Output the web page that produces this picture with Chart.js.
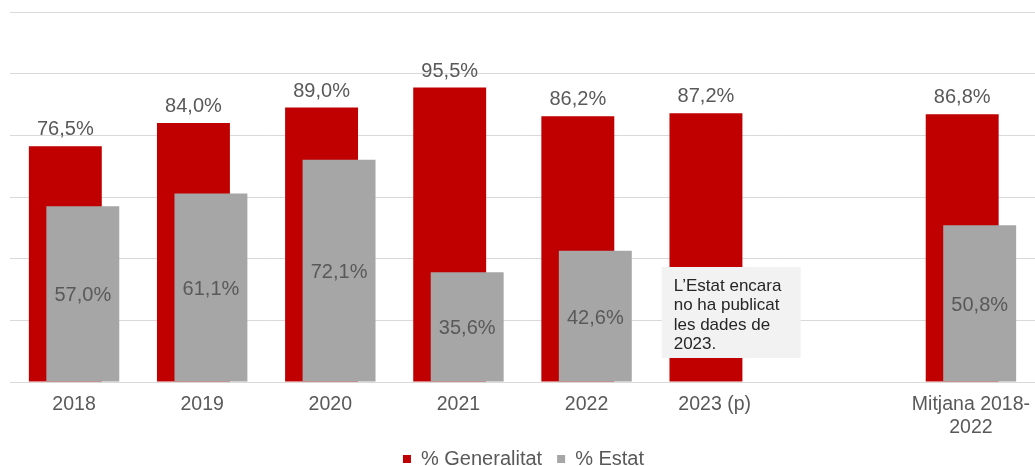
<!DOCTYPE html>
<html>
<head>
<meta charset="utf-8">
<script src="https://cdn.jsdelivr.net/npm/chart.js@4"></script>
<style>
  html, body { margin: 0; padding: 0; background: #ffffff; }
  #wrap { width: 1035px; height: 466px; position: relative; }
</style>
</head>
<body>
<div id="wrap"><canvas id="c"></canvas></div>
<script>
const categories = ['2018', '2019', '2020', '2021', '2022', '2023 (p)', '', ['Mitjana 2018-', '2022']];
const generalitat = [76.5, 84.0, 89.0, 95.5, 86.2, 87.2, null, 86.8];
const estat = [57.0, 61.1, 72.1, 35.6, 42.6, null, null, 50.8];
const seriesNames = ['% Generalitat', '% Estat'];
const yMin = 0, yMax = 120, yStep = 20;
const noteLines = ['L\u2019Estat encara', 'no ha publicat', 'les dades de', '2023.'];
const noteCategory = 5;

const FONT = "'Liberation Sans', Arial, Helvetica, sans-serif";
const fmt = v => v.toFixed(1).replace('.', ',') + '%';

const overlapPlugin = {
  id: 'overlapDraw',
  beforeDatasetsDraw(chart) {
    const ctx = chart.ctx;
    // draw red first, gray on top
    [0, 1].forEach(i => chart.getDatasetMeta(i).controller.draw());
    ctx.save();
    ctx.font = '20px ' + FONT;
    ctx.fillStyle = '#595959';
    ctx.textAlign = 'center';
    const red = chart.getDatasetMeta(0).data;
    red.forEach((el, i) => {
      const v = generalitat[i];
      if (v == null) return;
      ctx.textBaseline = 'alphabetic';
      ctx.fillText(fmt(v), el.x, el.y - 11);
    });
    const gray = chart.getDatasetMeta(1).data;
    gray.forEach((el, i) => {
      const v = estat[i];
      if (v == null) return;
      ctx.textBaseline = 'middle';
      ctx.fillText(fmt(v), el.x, (el.y + el.base) / 2 + 2);
    });
    // note box
    const xs = chart.scales.x;
    const cx = xs.getPixelForValue(noteCategory);
    const bx = cx - 53, bw = 139;
    const by = 267, bh = 91;
    ctx.fillStyle = '#f2f2f2';
    ctx.fillRect(bx, by, bw, bh);
    ctx.fillStyle = '#262626';
    ctx.font = '17px ' + FONT;
    ctx.textAlign = 'left';
    ctx.textBaseline = 'alphabetic';
    noteLines.forEach((t, k) => ctx.fillText(t, bx + 12, by + 24 + k * 19.4));
    ctx.restore();
    return false;
  }
};

new Chart(document.getElementById('c'), {
  type: 'bar',
  data: {
    labels: categories,
    datasets: [
      {
        label: seriesNames[0],
        data: generalitat,
        backgroundColor: '#C00000',
        borderWidth: 0,
        categoryPercentage: 0.273,
        barPercentage: 4.17
      },
      {
        label: seriesNames[1],
        data: estat,
        backgroundColor: '#A6A6A6',
        borderWidth: 0,
        categoryPercentage: 0.273,
        barPercentage: 4.17
      }
    ]
  },
  options: {
    responsive: true,
    maintainAspectRatio: false,
    animation: false,
    layout: { padding: { left: 10, right: -2, top: 12, bottom: -13 } },
    plugins: {
      legend: {
        position: 'bottom',
        labels: {
          boxWidth: 8,
          boxHeight: 8,
          padding: 15,
          color: '#595959',
          font: { size: 20, family: FONT }
        }
      },
      tooltip: { enabled: false }
    },
    scales: {
      x: {
        grid: { display: false, drawTicks: false },
        border: { display: false },
        ticks: {
          color: '#595959',
          padding: 11,
          maxRotation: 0,
          autoSkip: false,
          font: { size: 19.5, family: FONT, lineHeight: 1.2 }
        },
        afterFit(s) { s.height = 52; s.paddingLeft = 0; s.paddingRight = 0; }
      },
      y: {
        min: yMin,
        max: yMax,
        ticks: { display: false, stepSize: yStep },
        grid: { color: '#d9d9d9', lineWidth: 1, drawTicks: false },
        border: { display: false },
        afterFit(s) { s.width = 0; }
      }
    }
  },
  plugins: [overlapPlugin]
});
</script>
</body>
</html>
